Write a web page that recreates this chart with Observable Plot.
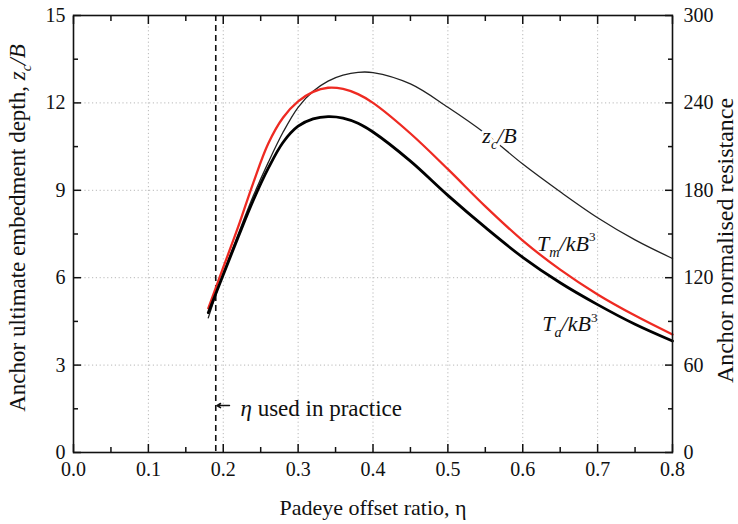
<!DOCTYPE html>
<html>
<head>
<meta charset="utf-8">
<script src="https://cdn.jsdelivr.net/npm/d3@7"></script>
<script src="https://cdn.jsdelivr.net/npm/@observablehq/plot@0.6"></script>
<style>
  html, body { margin: 0; padding: 0; background: #fff; }
  #chart svg { display: block; font-family: 'Liberation Serif', 'Times New Roman', serif; }
  #chart svg text { font-family: 'Liberation Serif', 'Times New Roman', serif; }
</style>
</head>
<body>
<div id="chart"></div>
<script>
// ---- data ----
const eta   = [0.18, 0.20, 0.22, 0.24, 0.26, 0.28, 0.30, 0.32, 0.34, 0.36, 0.38, 0.40, 0.45, 0.50, 0.55, 0.60, 0.65, 0.70, 0.75, 0.80];
// Anchor ultimate embedment depth z_c/B (left axis)
const zcB   = [4.62, 6.15, 7.5, 8.8, 9.95, 11.0, 11.85, 12.4, 12.75, 12.95, 13.05, 13.04, 12.65, 11.85, 10.95, 9.9, 8.95, 8.06, 7.3, 6.66];
// Normalised resistance T_m/kB^3 (right axis)
const TmkB3 = [99, 127, 155, 185, 212, 230, 241, 247.6, 250.4, 249.6, 246, 240, 219, 194.5, 169, 145.5, 125.5, 108.5, 94, 81];
// Normalised resistance T_a/kB^3 (right axis)
const TakB3 = [96, 122, 148, 173, 195, 213, 224, 229, 230.6, 229.6, 226, 220, 200, 176.5, 154.5, 134, 116.5, 101.5, 88, 76.5];

const xTicks         = [0, 0.1, 0.2, 0.3, 0.4, 0.5, 0.6, 0.7, 0.8];
const xMinorTicks    = [0.05, 0.15, 0.25, 0.35, 0.45, 0.55, 0.65, 0.75];
const leftTicks      = [0, 3, 6, 9, 12, 15];
const leftMinorTicks = [1.5, 4.5, 7.5, 10.5, 13.5];
const rightTicks     = [0, 60, 120, 180, 240, 300];
const rightMinorTicks= [30, 90, 150, 210, 270];

const etaPractice = [0.19];

const xTitle     = "Padeye offset ratio, η";
const leftTitle  = "Anchor ultimate embedment depth, z_c/B";
const rightTitle = "Anchor normalised resistance";

// curve labels (eta, left-axis value of baseline)
const labelText = ["z_c/B", "T_m/kB^3", "T_a/kB^3"];
const labelEta  = [0.546, 0.619, 0.626];
const labelVal  = [10.64, 6.93, 4.16];

// annotation: arrow and text
const annotText = ["η used in practice"];
const arrowEta1 = [0.2083], arrowEta2 = [0.1915], arrowVal = [1.61];
const annotEta  = [0.223], annotVal = [1.24];

// ---- derived ----
const k = rightTicks[rightTicks.length - 1] / leftTicks[leftTicks.length - 1]; // 20
const rows = eta.map((e, i) => ({eta: e, zc: zcB[i], tm: TmkB3[i] / k, ta: TakB3[i] / k}));
const labels = labelText.map((t, i) => ({t, x: labelEta[i], y: labelVal[i]}));
const arrows = arrowVal.map((v, i) => ({x1: arrowEta1[i], x2: arrowEta2[i], y: v}));
const annots = annotText.map((t, i) => ({t, x: annotEta[i], y: annotVal[i]}));

const serif = "'Liberation Serif', 'Times New Roman', serif";
const noText = () => "";
const ax = {fontFamily: serif, label: null, strokeWidth: 1.5};

const plot = Plot.plot({
  width: 738,
  height: 524,
  marginLeft: 73,
  marginRight: 66,
  marginTop: 15,
  marginBottom: 72,
  style: {fontFamily: serif, fontSize: "20px", color: "#111", background: "#fff"},
  x: {domain: [0, 0.8], label: null},
  y: {domain: [0, 15], label: null},
  marks: [
    Plot.gridX(xTicks.slice(1, -1), {stroke: "#b8b8b8", strokeOpacity: 1, strokeDasharray: "1.2,2.6"}),
    Plot.gridY(leftTicks.slice(1, -1), {stroke: "#b8b8b8", strokeOpacity: 1, strokeDasharray: "1.2,2.6"}),
    Plot.ruleX(etaPractice, {stroke: "#111", strokeWidth: 1.6, strokeDasharray: "6,4"}),
    Plot.line(rows, {x: "eta", y: "zc", stroke: "#222", strokeWidth: 1.3, curve: "catmull-rom"}),
    Plot.line(rows, {x: "eta", y: "tm", stroke: "#ee2a22", strokeWidth: 2.3, curve: "catmull-rom"}),
    Plot.line(rows, {x: "eta", y: "ta", stroke: "#000", strokeWidth: 2.8, curve: "catmull-rom"}),
    // white halo under the z_c/B label (cuts the thin curve as in the reference)
    Plot.text(labels.slice(0, 1), {x: "x", y: "y", text: "t", textAnchor: "start", lineAnchor: "bottom",
      fontSize: 22, fontFamily: serif, fill: "white", stroke: "white", strokeWidth: 6}),
    Plot.text(labels, {x: "x", y: "y", text: "t", textAnchor: "start", lineAnchor: "bottom",
      fontSize: 22, fontFamily: serif, fill: "#111"}),
    Plot.arrow(arrows, {x1: "x1", x2: "x2", y1: "y", y2: "y", stroke: "#111", strokeWidth: 1.5, headLength: 7, bend: 0}),
    Plot.text(annots, {x: "x", y: "y", text: "t", textAnchor: "start", lineAnchor: "bottom", fontSize: 23, fontFamily: serif, fill: "#111"}),
    Plot.frame({stroke: "#111", strokeWidth: 1.6}),
    // bottom axis
    Plot.axisX(xTicks, {...ax, anchor: "bottom", tickSize: -8, tickPadding: 17, tickFormat: d3.format(".1f"), fontSize: 20}),
    Plot.axisX(xMinorTicks, {...ax, anchor: "bottom", tickSize: -5, tickFormat: noText}),
    // top axis
    Plot.axisX(xTicks, {...ax, anchor: "top", tickSize: -8, tickFormat: noText}),
    Plot.axisX(xMinorTicks, {...ax, anchor: "top", tickSize: -5, tickFormat: noText}),
    // left axis
    Plot.axisY(leftTicks, {...ax, anchor: "left", tickSize: -8, tickPadding: 16, fontSize: 20}),
    Plot.axisY(leftMinorTicks, {...ax, anchor: "left", tickSize: -5, tickFormat: noText}),
    // right axis (values in right units mapped to the left scale)
    Plot.axisY(rightTicks.map(v => v / k), {...ax, anchor: "right", tickSize: -8, tickPadding: 19, fontSize: 20,
      tickFormat: d => String(Math.round(d * k))}),
    Plot.axisY(rightMinorTicks.map(v => v / k), {...ax, anchor: "right", tickSize: -5, tickFormat: noText}),
    // titles
    Plot.text([xTitle], {frameAnchor: "bottom", dy: 55, text: d => d, fontSize: 22, fontFamily: serif,
      textAnchor: "middle", lineAnchor: "middle", fill: "#111"}),
    Plot.text([leftTitle], {frameAnchor: "left", dx: -56, dy: -6, rotate: -90, text: d => d, fontSize: 23, fontFamily: serif,
      textAnchor: "middle", lineAnchor: "middle", fill: "#111"}),
    Plot.text([rightTitle], {frameAnchor: "right", dx: 53, dy: 6.5, rotate: -90, text: d => d, fontSize: 24, fontFamily: serif,
      textAnchor: "middle", lineAnchor: "middle", fill: "#111"})
  ]
});

// ---- rich text (italics, sub/superscripts) ----
const NS = "http://www.w3.org/2000/svg";
const richMap = {
  "z_c/B":   [["z", "i"], ["c", "i", "sub"], ["/", "i"], ["B", "i"]],
  "T_m/kB^3":[["T", "i"], ["m", "i", "sub"], ["/", "i"], ["kB", "i"], ["3", "", "sup"]],
  "T_a/kB^3":[["T", "i"], ["a", "i", "sub"], ["/", "i"], ["kB", "i"], ["3", "", "sup"]],
  "η used in practice": [["η", "i"], [" used in practice", ""]],
  "Anchor ultimate embedment depth, z_c/B": [["Anchor ultimate embedment depth, ", ""], ["z", "i"], ["c", "i", "sub"], ["/", "i"], ["B", "i"]]
};
d3.select(plot).selectAll("text").each(function() {
  const segs = richMap[this.textContent];
  if (!segs) return;
  let base = 20, el = this;
  while (el && el.getAttribute) {
    const fs = el.getAttribute("font-size");
    if (fs) { base = parseFloat(fs); break; }
    el = el.parentNode;
  }
  this.textContent = "";
  let shift = 0;
  for (const [t, style, pos] of segs) {
    const ts = document.createElementNS(NS, "tspan");
    ts.textContent = t;
    if (style === "i") ts.setAttribute("font-style", "italic");
    let target = 0;
    if (pos === "sub") { ts.setAttribute("font-size", (base * 0.65) + "px"); target = base * 0.28; }
    if (pos === "sup") { ts.setAttribute("font-size", (base * 0.6) + "px"); target = -base * 0.42; }
    const d = target - shift;
    if (d) ts.setAttribute("dy", d + "px");
    shift = target;
    this.appendChild(ts);
  }
});

document.getElementById("chart").appendChild(plot);
</script>
</body>
</html>
